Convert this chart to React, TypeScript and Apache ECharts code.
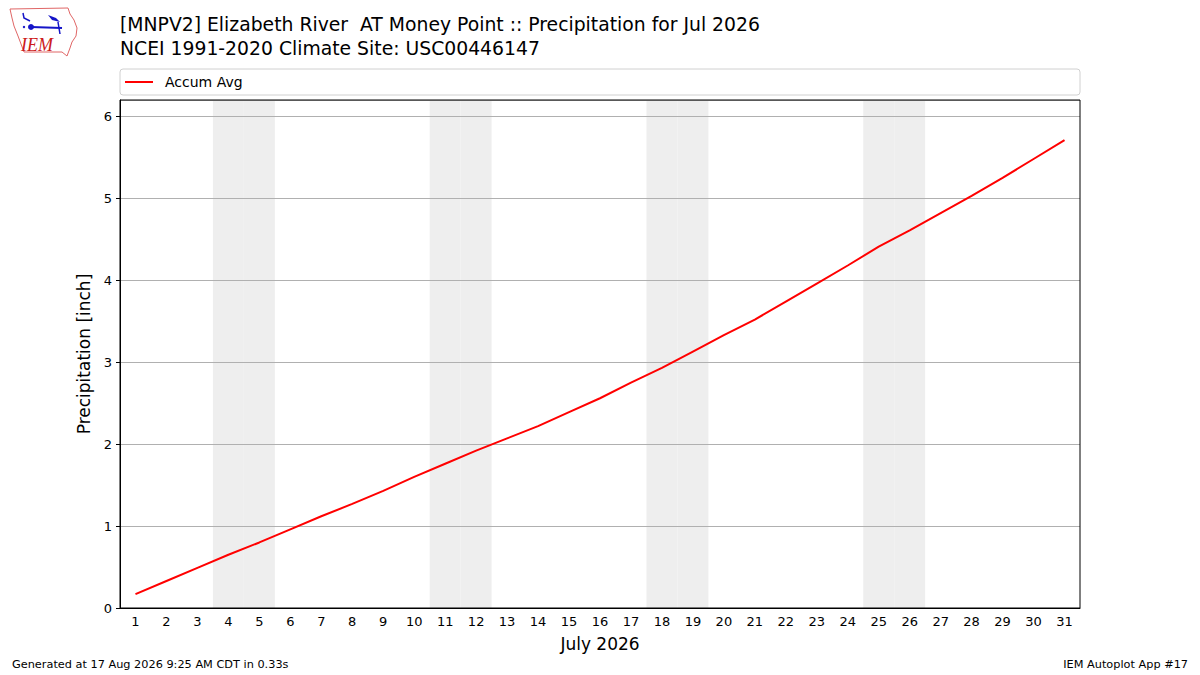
import React, { useRef, useEffect } from 'react';
import * as echarts from 'echarts';

// day of month, July 2026
const days = [
  '1', '2', '3', '4', '5', '6', '7', '8', '9', '10', '11', '12', '13', '14', '15', '16',
  '17', '18', '19', '20', '21', '22', '23', '24', '25', '26', '27', '28', '29', '30', '31',
];

// NCEI 1991-2020 accumulated average precipitation [inch]
const accumAvg = [
  0.17, 0.33, 0.49, 0.65, 0.8, 0.96, 1.12, 1.27, 1.43, 1.6, 1.76, 1.92, 2.07, 2.22, 2.39, 2.56,
  2.75, 2.93, 3.13, 3.33, 3.52, 3.74, 3.96, 4.18, 4.41, 4.61, 4.82, 5.03, 5.25, 5.48, 5.71,
];

// weekends get a grey band
const weekendDays = ['4', '5', '11', '12', '18', '19', '25', '26'];

const yTicks = [0, 1, 2, 3, 4, 5, 6];
const yMax = 6.2;

const FONT = '"DejaVu Sans", sans-serif';

const App: React.FC = () => {
  const chartRef = useRef<HTMLDivElement>(null);

  useEffect(() => {
    if (!chartRef.current) return;
    const chart = echarts.init(chartRef.current, undefined, { renderer: 'svg' });

    const option: echarts.EChartsOption = {
      animation: false,
      backgroundColor: '#ffffff',
      textStyle: { fontFamily: FONT },
      title: {
        text: '[MNPV2] Elizabeth River  AT Money Point :: Precipitation for Jul 2026\nNCEI 1991-2020 Climate Site: USC00446147',
        left: 115,
        top: 7,
        textStyle: { fontFamily: FONT, fontSize: 18.8, fontWeight: 'normal', color: '#000', lineHeight: 24 },
      },
      legend: {
        left: 120,
        top: 70,
        data: ['Accum Avg'],
        icon: 'rect',
        itemWidth: 28,
        itemHeight: 2,
        itemGap: 10,
        textStyle: { fontFamily: FONT, fontSize: 14, color: '#000', padding: [0, 0, 0, 7] },
      },
      grid: { left: 120, top: 100, width: 960, height: 508, show: false },
      xAxis: {
        type: 'category',
        data: days,
        boundaryGap: true,
        name: 'July 2026',
        nameLocation: 'middle',
        nameGap: 27,
        nameTextStyle: { fontFamily: FONT, fontSize: 17, color: '#000' },
        axisLine: { lineStyle: { color: '#000', width: 1 } },
        axisTick: { alignWithLabel: true, length: 4, lineStyle: { color: '#000' } },
        axisLabel: { fontFamily: FONT, fontSize: 13, color: '#000', margin: 7, interval: 0 },
        splitLine: { show: false },
      },
      yAxis: {
        type: 'value',
        min: yTicks[0],
        max: yMax,
        interval: 1,
        name: 'Precipitation [inch]',
        nameLocation: 'middle',
        nameGap: 25,
        nameTextStyle: { fontFamily: FONT, fontSize: 17, color: '#000' },
        axisLine: { show: true, lineStyle: { color: '#000', width: 1 } },
        axisTick: { show: true, length: 4, lineStyle: { color: '#000' } },
        axisLabel: {
          fontFamily: FONT,
          fontSize: 13,
          color: '#000',
          margin: 8,
          showMaxLabel: false,
          formatter: (v: number) => (yTicks.includes(v) ? String(v) : ''),
        },
        splitLine: { show: true, lineStyle: { color: '#b0b0b0', width: 1 } },
      },
      series: [
        {
          name: 'weekend',
          type: 'bar',
          data: days.map(d => (weekendDays.includes(d) ? yMax : null)),
          barWidth: '100%',
          barGap: '-100%',
          itemStyle: { color: '#eeeeee' },
          silent: true,
          z: -1,
        },
        {
          name: 'Accum Avg',
          type: 'line',
          data: accumAvg,
          symbol: 'none',
          lineStyle: { color: '#ff0000', width: 2 },
          itemStyle: { color: '#ff0000' },
          z: 5,
        },
      ],
      graphic: [
        // plot frame
        {
          type: 'rect',
          shape: { x: 120, y: 100, width: 960, height: 508 },
          style: { fill: 'none', stroke: '#000', lineWidth: 1 },
          z: 100,
          silent: true,
        },
        // legend box
        {
          type: 'rect',
          shape: { x: 120, y: 69, width: 960, height: 26, r: 3 },
          style: { fill: 'none', stroke: '#d0d0d0', lineWidth: 1 },
          z: 100,
          silent: true,
        },
        // IEM logo: Iowa outline
        {
          type: 'polygon',
          shape: {
            points: [
              [10, 9], [68, 8], [70, 14], [74, 20], [77, 28], [76, 36], [72, 42], [70, 48],
              [67, 56], [62, 52], [24, 52], [21, 44], [18, 36], [14, 26], [12, 18],
            ],
          },
          style: { fill: '#ffffff', stroke: '#e06666', lineWidth: 1 },
          z: 100,
        },
        {
          type: 'line',
          shape: { x1: 31, y1: 27, x2: 62, y2: 28 },
          style: { stroke: '#1515c8', lineWidth: 2 },
          z: 101,
        },
        {
          type: 'circle',
          shape: { cx: 31, cy: 27, r: 3 },
          style: { fill: '#1515c8' },
          z: 101,
        },
        {
          type: 'polyline',
          shape: { points: [[23, 13], [24, 18], [30, 21]] },
          style: { stroke: '#1515c8', lineWidth: 1.5, fill: 'none' },
          z: 101,
        },
        {
          type: 'polygon',
          shape: { points: [[48, 15], [56, 18], [60, 22], [52, 20]] },
          style: { fill: '#1515c8' },
          z: 101,
        },
        {
          type: 'polyline',
          shape: { points: [[58, 22], [60, 34]] },
          style: { stroke: '#1515c8', lineWidth: 1.5, fill: 'none' },
          z: 101,
        },
        {
          type: 'circle',
          shape: { cx: 24, cy: 27, r: 1.2 },
          style: { fill: '#1515c8' },
          z: 101,
        },
        {
          type: 'text',
          x: 21,
          y: 36,
          style: {
            text: 'IEM',
            fill: '#cc1a1a',
            font: 'italic 18px "Liberation Serif", serif',
          },
          z: 101,
        },
        // footer
        {
          type: 'text',
          left: 12,
          top: 659,
          style: { text: 'Generated at 17 Aug 2026 9:25 AM CDT in 0.33s', fill: '#000', font: `11.3px ${FONT}` },
        },
        {
          type: 'text',
          right: 12,
          top: 659,
          style: { text: 'IEM Autoplot App #17', fill: '#000', font: `11.3px ${FONT}` },
        },
      ],
    };

    chart.setOption(option);

    return () => {
      chart.dispose();
    };
  }, []);

  return (
    <div
      ref={chartRef}
      style={{ position: 'fixed', left: 0, top: 0, width: 1200, height: 675 }}
    />
  );
};

export default App;
